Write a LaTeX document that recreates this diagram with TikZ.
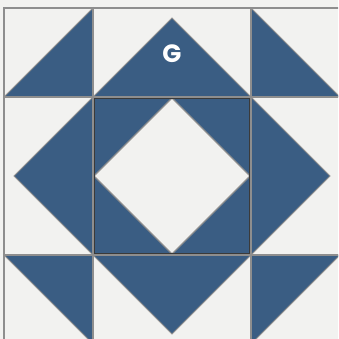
\documentclass[tikz,border=0pt]{standalone}
\usepackage{fontspec}
\setmainfont{Poppins}
\definecolor{qblue}{HTML}{3A5D83}
\definecolor{qbg}{HTML}{F2F2F0}
\definecolor{qline}{HTML}{8E8E8E}
\definecolor{qdark}{HTML}{3A3A3A}
\begin{document}
\begin{tikzpicture}[x=1pt,y=-1pt,
  tri/.style={fill=qblue,draw=qline,line width=0.9pt,line join=miter},
  gap/.style={fill=qbg,draw=qline,line width=1.2pt,line join=miter},
  grid/.style={draw=qline,line width=1.4pt},
  label/.style={text=white,font=\bfseries\fontsize{25}{25}\selectfont,inner sep=0pt}]
\useasboundingbox (0,0) rectangle (338,339);
\clip (0,0) rectangle (338,339);
\fill[qbg] (0,0) rectangle (338,339);
% corner half-square triangles
\filldraw[tri] (93,8) -- (93,97) -- (4,97) -- cycle;
\filldraw[tri] (251,8) -- (251,97) -- (340,97) -- cycle;
\filldraw[tri] (4,255) -- (93,255) -- (93,344) -- cycle;
\filldraw[tri] (251,255) -- (340,255) -- (251,344) -- cycle;
% flying geese
\filldraw[tri] (93,97) -- (172,18) -- (251,97) -- cycle;
\filldraw[tri] (93,255) -- (172,334) -- (251,255) -- cycle;
\filldraw[tri] (93,97) -- (14,176) -- (93,255) -- cycle;
\filldraw[tri] (251,97) -- (330,176) -- (251,255) -- cycle;
% centre square with diamond
\fill[qblue] (93,97) rectangle (251,255);
\filldraw[gap] (172,98) -- (250,176) -- (172,254) -- (94,176) -- cycle;
% grid
\draw[grid] (4,345) -- (4,8) -- (345,8);
\draw[grid] (93,8) -- (93,345);
\draw[grid] (251,8) -- (251,345);
\draw[grid] (4,97) -- (345,97);
\draw[grid] (4,255) -- (345,255);
\draw[qdark,line width=0.8pt] (94.2,98.2) rectangle (249.8,253.8);
\node[label] (g) at (172,54) {G};
\end{tikzpicture}
\end{document}
